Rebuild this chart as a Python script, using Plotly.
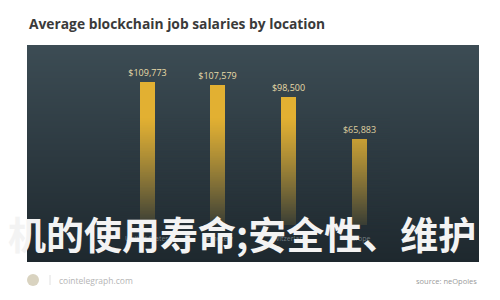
import plotly.graph_objects as go

# ---- data ----
categories = ["United States", "Remotely", "Switzerland", "Europe"]
salaries = [109773, 107579, 98500, 65883]
value_labels = ["$" + format(v, ",") for v in salaries]
title_text = "Average blockchain job salaries by location"
overlay_text = "机的使用寿命;安全性、维护"
footer_left = "cointelegraph.com"
footer_right = "source: neOpoles"

W, H = 500, 300


def px_x(p):
    return p / W


def px_y(p):
    return 1 - p / H


fig = go.Figure()
fig.add_trace(go.Bar(
    x=list(range(len(categories))),
    y=salaries,
    width=0.21,
    marker=dict(color="#e2b032", line=dict(width=0)),
    text=value_labels,
    textposition="outside",
    constraintext="none",
    textfont=dict(family="Open Sans", size=9, color="#e9dca8"),
    cliponaxis=False,
    hoverinfo="skip",
))

top_c = (60, 76, 84)
bot_c = (30, 40, 46)
PT, PB = 45, 262


def panel_color(yy):
    tt = max(0.0, min(1.0, (yy - PT) / (PB - PT)))
    return tuple(int(round(top_c[k] + (bot_c[k] - top_c[k]) * tt)) for k in range(3))


shapes = []
x0, x1 = px_x(27), px_x(479)
# panel gradient, 1px rows on integer pixel bounds
for yy in range(PT, PB):
    c = panel_color(yy + 0.5)
    shapes.append(dict(
        type="rect", xref="paper", yref="paper", x0=x0, x1=x1,
        y0=px_y(yy + 1), y1=px_y(yy),
        fillcolor="rgb(%d,%d,%d)" % c, line=dict(width=0), layer="below"))
# fade overlay for bar bottoms (1px rows)
ys, ye = 118, 232
for yy in range(ys, ye):
    t = (yy - ys + 0.5) / (ye - ys)
    op = min(0.95, 0.95 * t ** 1.1)
    c = panel_color(yy + 0.5)
    shapes.append(dict(
        type="rect", xref="paper", yref="paper", x0=px_x(120), x1=px_x(390),
        y0=px_y(yy + 1), y1=px_y(yy),
        fillcolor="rgba(%d,%d,%d,%.3f)" % (c + (op,)), line=dict(width=0), layer="above"))
for yy in range(ye, PB):
    c = panel_color(yy + 0.5)
    shapes.append(dict(
        type="rect", xref="paper", yref="paper", x0=px_x(120), x1=px_x(390),
        y0=px_y(yy + 1), y1=px_y(yy),
        fillcolor="rgb(%d,%d,%d)" % c, line=dict(width=0), layer="above"))
# logo
shapes.append(dict(
    type="circle", xref="paper", yref="paper", x0=px_x(27), x1=px_x(39),
    y0=px_y(286), y1=px_y(274), fillcolor="#d9d3c0", line=dict(width=0)))
shapes.append(dict(
    type="line", xref="paper", yref="paper", x0=px_x(50), x1=px_x(50),
    y0=px_y(285), y1=px_y(275), line=dict(color="#e0e0e0", width=1)))

annotations = []
annotations.append(dict(
    text="<b>" + title_text + "</b>", xref="paper", yref="paper",
    x=px_x(27), y=px_y(23), xanchor="left", yanchor="middle", showarrow=False,
    font=dict(family="Open Sans", size=13.8, color="#3a3a3a")))
for i, c in enumerate(categories):
    annotations.append(dict(
        text=c, xref="x", yref="paper", x=i, y=px_y(238), showarrow=False,
        xanchor="center", yanchor="middle",
        font=dict(family="Open Sans", size=7, color="rgba(150,160,165,0.7)")))
annotations.append(dict(
    text=overlay_text, xref="paper", yref="paper", x=px_x(6), y=px_y(233),
    xanchor="left", yanchor="middle", showarrow=False,
    font=dict(family="Noto Sans CJK SC", size=38, color="#f3f3f3", weight=700)))
annotations.append(dict(
    text=footer_left, xref="paper", yref="paper", x=px_x(57), y=px_y(280),
    xanchor="left", yanchor="middle", showarrow=False,
    font=dict(family="Open Sans", size=8.5, color="#b5b5b5")))
annotations.append(dict(
    text=footer_right, xref="paper", yref="paper", x=px_x(479), y=px_y(281),
    xanchor="right", yanchor="middle", showarrow=False,
    font=dict(family="Open Sans", size=7.5, color="#9a9a9a")))

fig.update_layout(
    width=W, height=H, margin=dict(l=0, r=0, t=0, b=0),
    paper_bgcolor="white", plot_bgcolor="rgba(0,0,0,0)",
    showlegend=False, bargap=0,
    xaxis=dict(range=[-2.08, 4.99], visible=False, fixedrange=True),
    yaxis=dict(range=[-57700, 173000], visible=False, fixedrange=True),
    shapes=shapes, annotations=annotations,
)
fig.write_html("out.html")
